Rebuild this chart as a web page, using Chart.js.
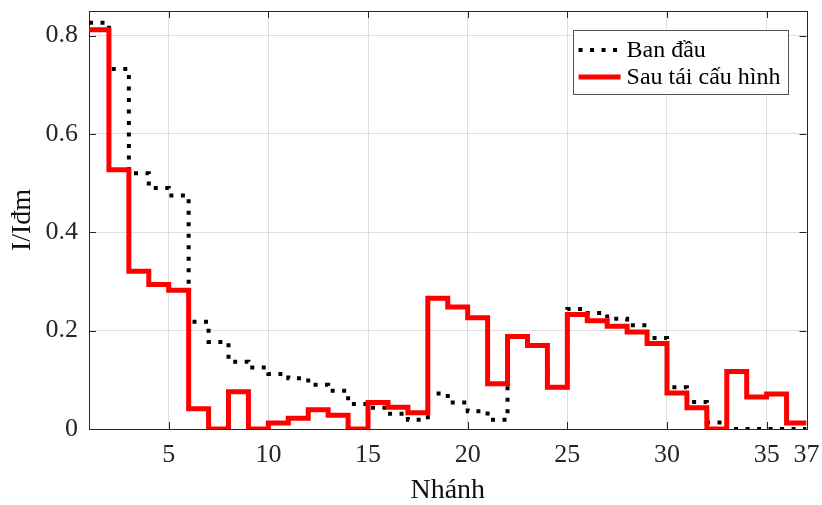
<!DOCTYPE html>
<html>
<head>
<meta charset="utf-8">
<script src="https://cdn.jsdelivr.net/npm/chart.js@4.4.1/dist/chart.umd.min.js"></script>
<style>
  html, body { margin: 0; padding: 0; background: #ffffff; }
  #wrap { width: 822px; height: 505px; }
</style>
</head>
<body>
<div id="wrap"><canvas id="chart" width="822" height="505"></canvas></div>
<script>
// Branch numbers (step starts) and per-unit branch current I/Iđm
const branches = [1, 2, 3, 4, 5, 6, 7, 8, 9, 10, 11, 12, 13, 14, 15, 16, 17, 18, 19,
  20, 21, 22, 23, 24, 25, 26, 27, 28, 29, 30, 31, 32, 33, 34, 35, 36, 37];

const initialCurrent = [0.826, 0.732, 0.520, 0.490, 0.475, 0.218, 0.177, 0.137, 0.125,
  0.112, 0.103, 0.090, 0.078, 0.051, 0.043, 0.031, 0.019, 0.072, 0.054, 0.036, 0.019,
  0.188, 0.170, 0.085, 0.244, 0.236, 0.224, 0.211, 0.185, 0.085, 0.055, 0.013,
  0, 0, 0, 0, 0];

const reconfiguredCurrent = [0.812, 0.527, 0.321, 0.294, 0.282, 0.041, 0, 0.076, 0,
  0.012, 0.022, 0.039, 0.028, 0, 0.054, 0.044, 0.033, 0.266, 0.248, 0.226, 0.092,
  0.188, 0.170, 0.085, 0.233, 0.220, 0.209, 0.197, 0.174, 0.073, 0.043, 0,
  0.117, 0.065, 0.071, 0.012, 0.012];

const seriesNames = ['Ban đầu', 'Sau tái cấu hình'];
const xTickValues = [5, 10, 15, 20, 25, 30, 35, 37];
const yTickValues = [0, 0.2, 0.4, 0.6, 0.8];
const xTitle = 'Nhánh';
const yTitle = 'I/Iđm';

const FONT = '"Liberation Serif", "Times New Roman", serif';
const AXIS_COLOR = '#262626';
const GRID_COLOR = 'rgba(38,38,38,0.15)';

const toPoints = (ys) => branches.map((b, i) => ({ x: b, y: ys[i] }));

// Axis box with inward tick marks on all four sides
const framePlugin = {
  id: 'frame',
  beforeDatasetsDraw(chart) {
    const { ctx, chartArea: a, scales } = chart;
    const len = 7;
    ctx.save();
    ctx.strokeStyle = AXIS_COLOR;
    ctx.lineWidth = 1;
    ctx.beginPath();
    scales.x.ticks.forEach(t => {
      const px = Math.round(scales.x.getPixelForValue(t.value)) + 0.5;
      ctx.moveTo(px, a.bottom); ctx.lineTo(px, a.bottom - len);
      ctx.moveTo(px, a.top); ctx.lineTo(px, a.top + len);
    });
    scales.y.ticks.forEach(t => {
      const py = Math.round(scales.y.getPixelForValue(t.value)) + 0.5;
      ctx.moveTo(a.left, py); ctx.lineTo(a.left + len, py);
      ctx.moveTo(a.right, py); ctx.lineTo(a.right - len, py);
    });
    ctx.stroke();
    ctx.strokeRect(Math.round(a.left) + 0.5, Math.round(a.top) + 0.5,
      Math.round(a.right - a.left), Math.round(a.bottom - a.top));
    ctx.restore();
  }
};

// Boxed legend in the upper right corner of the plot
const legendPlugin = {
  id: 'boxLegend',
  afterDraw(chart) {
    const { ctx, chartArea: a } = chart;
    const sets = chart.data.datasets;
    ctx.save();
    ctx.font = '24px ' + FONT;
    const textW = Math.max(...sets.map(d => ctx.measureText(d.label).width));
    const sample = 42, padL = 5.5, gap = 6, padR = 7.5;
    const w = padL + sample + gap + textW + padR;
    const h = 64;
    const x0 = a.right - 18.5 - w;
    const y0 = a.top + 19;
    ctx.fillStyle = '#ffffff';
    ctx.fillRect(x0, y0, w, h);
    ctx.strokeStyle = '#555555';
    ctx.lineWidth = 1;
    ctx.strokeRect(Math.round(x0) + 0.5, Math.round(y0) + 0.5, Math.round(w), h);
    const rows = [y0 + 20, y0 + 47];
    sets.forEach((d, i) => {
      const y = rows[i];
      ctx.beginPath();
      ctx.strokeStyle = d.borderColor;
      ctx.lineWidth = d.borderWidth;
      ctx.lineCap = 'butt';
      ctx.setLineDash(d.borderDash || []);
      ctx.moveTo(x0 + padL, y);
      ctx.lineTo(x0 + padL + sample, y);
      ctx.stroke();
      ctx.setLineDash([]);
      ctx.fillStyle = '#000000';
      ctx.textBaseline = 'middle';
      ctx.textAlign = 'left';
      ctx.fillText(d.label, x0 + padL + sample + gap, y + 1);
    });
    ctx.restore();
  }
};

new Chart(document.getElementById('chart'), {
  type: 'line',
  data: {
    datasets: [
      {
        label: seriesNames[0],
        data: toPoints(initialCurrent),
        stepped: 'before',
        borderColor: '#000000',
        borderWidth: 4,
        borderDash: [4, 7.5],
        borderCapStyle: 'butt',
        pointRadius: 0,
        fill: false,
        order: 2
      },
      {
        label: seriesNames[1],
        data: toPoints(reconfiguredCurrent),
        stepped: 'before',
        borderColor: '#ff0000',
        borderWidth: 5,
        borderJoinStyle: 'miter',
        pointRadius: 0,
        fill: false,
        order: 1
      }
    ]
  },
  options: {
    responsive: false,
    devicePixelRatio: 1,
    animation: false,
    layout: { padding: { left: 0, top: 11, right: 15.5, bottom: 0 } },
    plugins: { legend: { display: false }, tooltip: { enabled: false } },
    scales: {
      x: {
        type: 'linear',
        min: 1,
        max: 37,
        afterBuildTicks: s => { s.ticks = xTickValues.map(v => ({ value: v })); },
        afterFit: s => { s.height = 76; s.paddingLeft = 0; s.paddingRight = 0; },
        ticks: {
          autoSkip: false,
          maxRotation: 0,
          padding: 11,
          color: AXIS_COLOR,
          font: { family: FONT, size: 26 },
          callback: v => String(v)
        },
        grid: {
          drawTicks: false,
          color: GRID_COLOR,
          lineWidth: c => (c.tick && c.tick.value === 37 ? 0 : 1)
        },
        border: { display: false },
        title: {
          display: true,
          text: xTitle,
          color: '#111111',
          font: { family: FONT, size: 28, lineHeight: 1 },
          padding: { top: 0, bottom: 0 }
        }
      },
      y: {
        type: 'linear',
        min: 0,
        max: 0.85,
        afterBuildTicks: s => { s.ticks = yTickValues.map(v => ({ value: v })); },
        afterFit: s => { s.width = 89; s.paddingTop = 0; s.paddingBottom = 0; },
        ticks: {
          padding: 11,
          color: AXIS_COLOR,
          font: { family: FONT, size: 26 },
          callback: v => String(v)
        },
        grid: {
          drawTicks: false,
          color: GRID_COLOR,
          lineWidth: 1
        },
        border: { display: false },
        title: {
          display: true,
          text: yTitle,
          color: '#111111',
          font: { family: FONT, size: 28, lineHeight: 1 },
          padding: { top: 8.5, bottom: 0 }
        }
      }
    }
  },
  plugins: [framePlugin, legendPlugin]
});
</script>
</body>
</html>
